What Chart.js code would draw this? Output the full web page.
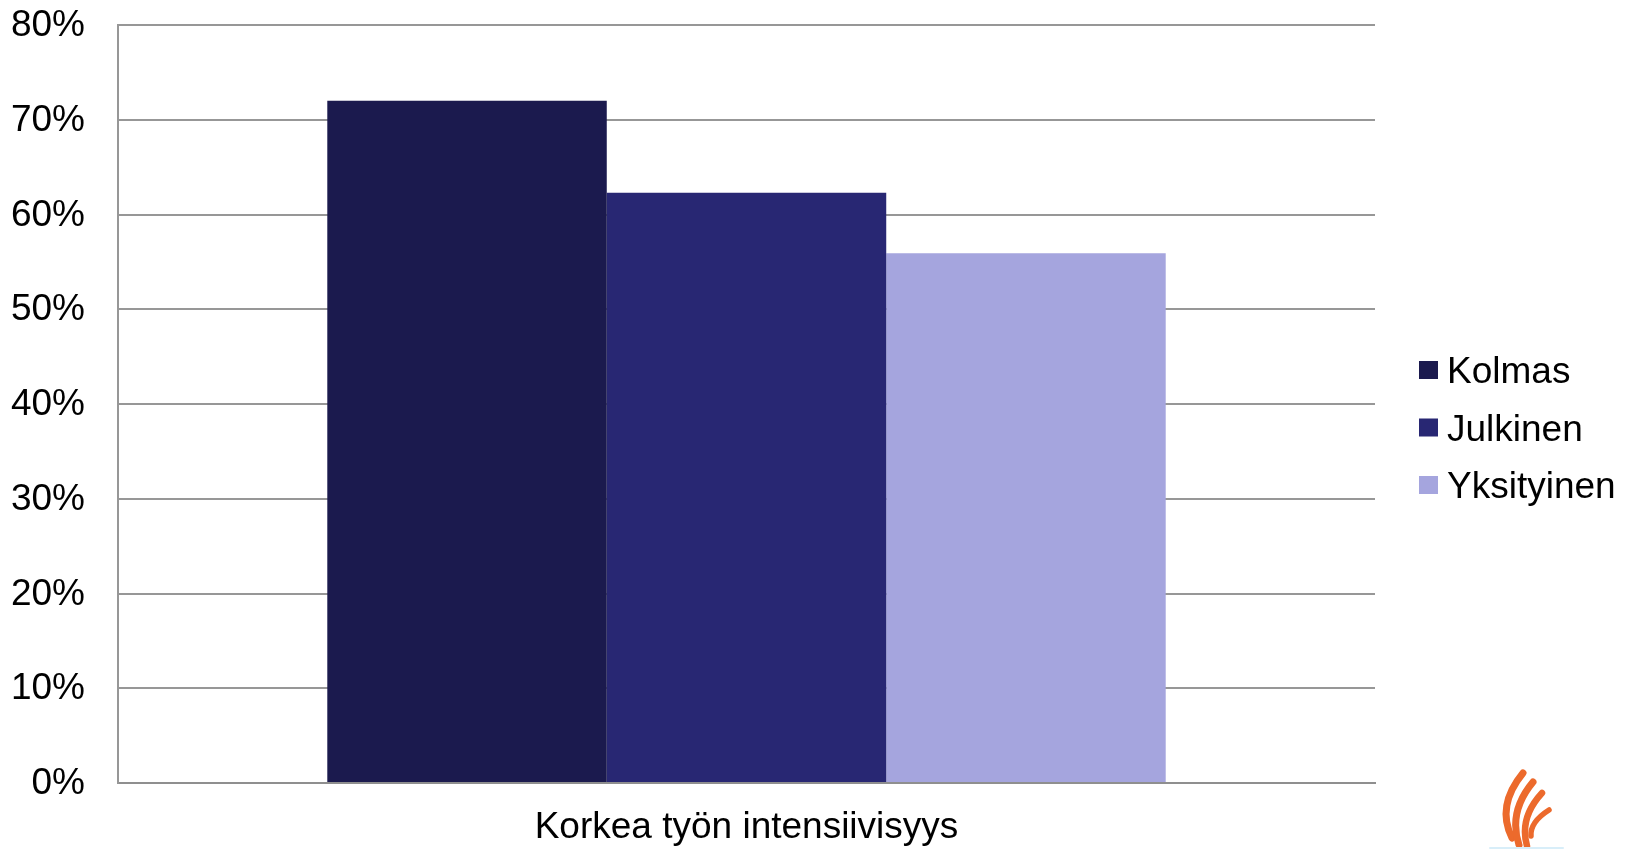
<!DOCTYPE html>
<html>
<head>
<meta charset="utf-8">
<script src="https://cdn.jsdelivr.net/npm/chart.js@4/dist/chart.umd.min.js"></script>
<style>
  html, body { margin: 0; padding: 0; background: #fff; }
  #wrap { width: 1635px; height: 849px; position: relative; }
</style>
</head>
<body>
<div id="wrap"><canvas id="c" width="1635" height="849"></canvas></div>
<script>
const categories = ["Korkea työn intensiivisyys"];
const seriesNames = ["Kolmas", "Julkinen", "Yksityinen"];
const kolmas = [72.0];
const julkinen = [62.3];
const yksityinen = [55.9];
const seriesColors = ["#1b1a4e", "#282773", "#a5a5de"];
const yTickValues = [0, 10, 20, 30, 40, 50, 60, 70, 80];

const FONT = "'Liberation Sans', Arial, sans-serif";

// Legend drawn at the right, from the chart's own datasets
const sideLegend = {
  id: 'sideLegend',
  afterDraw(chart) {
    const ctx = chart.ctx;
    ctx.save();
    ctx.font = "37px " + FONT;
    ctx.textBaseline = 'middle';
    ctx.textAlign = 'left';
    const n = chart.data.datasets.length;
    const step = 57.5;
    const cy = chart.height / 2 + 3;
    chart.data.datasets.forEach((ds, i) => {
      const y = cy + (i - (n - 1) / 2) * step;
      ctx.fillStyle = ds.backgroundColor;
      ctx.fillRect(1419, y - 9, 19, 18);
      ctx.fillStyle = '#000';
      ctx.fillText(ds.label, 1447, y + 3);
    });
    ctx.restore();
  }
};

const logoPlugin = {
  id: 'logo',
  afterDraw(chart) {
    const ctx = chart.ctx;
    ctx.save();
    ctx.strokeStyle = '#ec6a2c';
    ctx.lineCap = 'round';
    const strands = [
      [[1512,838],[1496,806],[1523,773], 7],
      [[1519,845],[1508,812],[1533,782], 7],
      [[1527,846],[1519,818],[1542,793], 6.5],
      [[1531,836],[1530,822],[1549,810], 5.5]
    ];
    strands.forEach(s => {
      ctx.lineWidth = s[3];
      ctx.beginPath();
      ctx.moveTo(s[0][0], s[0][1]);
      ctx.quadraticCurveTo(s[1][0], s[1][1], s[2][0], s[2][1]);
      ctx.stroke();
    });
    ctx.strokeStyle = '#d8eef9';
    ctx.lineWidth = 2;
    ctx.beginPath();
    ctx.moveTo(1490, 848);
    ctx.lineTo(1563, 848);
    ctx.stroke();
    ctx.restore();
  }
};

new Chart(document.getElementById('c'), {
  type: 'bar',
  data: {
    labels: categories,
    datasets: [
      { label: seriesNames[0], data: kolmas, backgroundColor: seriesColors[0] },
      { label: seriesNames[1], data: julkinen, backgroundColor: seriesColors[1] },
      { label: seriesNames[2], data: yksityinen, backgroundColor: seriesColors[2] }
    ]
  },
  options: {
    responsive: false,
    animation: false,
    devicePixelRatio: 1,
    layout: { padding: { top: 25, right: 260, bottom: 0, left: 0 } },
    datasets: { bar: { categoryPercentage: 0.667, barPercentage: 1.0 } },
    plugins: {
      legend: { display: false },
      tooltip: { enabled: false }
    },
    scales: {
      x: {
        grid: { display: false, drawTicks: false },
        border: { display: true, color: '#8f8f8f', width: 2 },
        ticks: { font: { family: FONT, size: 37 }, color: '#000', padding: 23 },
        afterFit(scale) {
          scale.height = 66;
          scale.paddingLeft = 0;
          scale.paddingRight = 0;
        }
      },
      y: {
        min: 0,
        max: 80,
        afterBuildTicks(axis) { axis.ticks = yTickValues.map(v => ({ value: v })); },
        grid: { color: '#979797', lineWidth: 2, drawTicks: false },
        border: { display: true, color: '#979797', width: 2 },
        ticks: {
          font: { family: FONT, size: 37 },
          color: '#000',
          padding: 33,
          labelOffset: 1,
          callback: v => v + '%'
        },
        afterFit(scale) {
          scale.width = 118;
          scale.paddingTop = 0;
          scale.paddingBottom = 0;
        }
      }
    }
  },
  plugins: [sideLegend, logoPlugin]
});
</script>
</body>
</html>
